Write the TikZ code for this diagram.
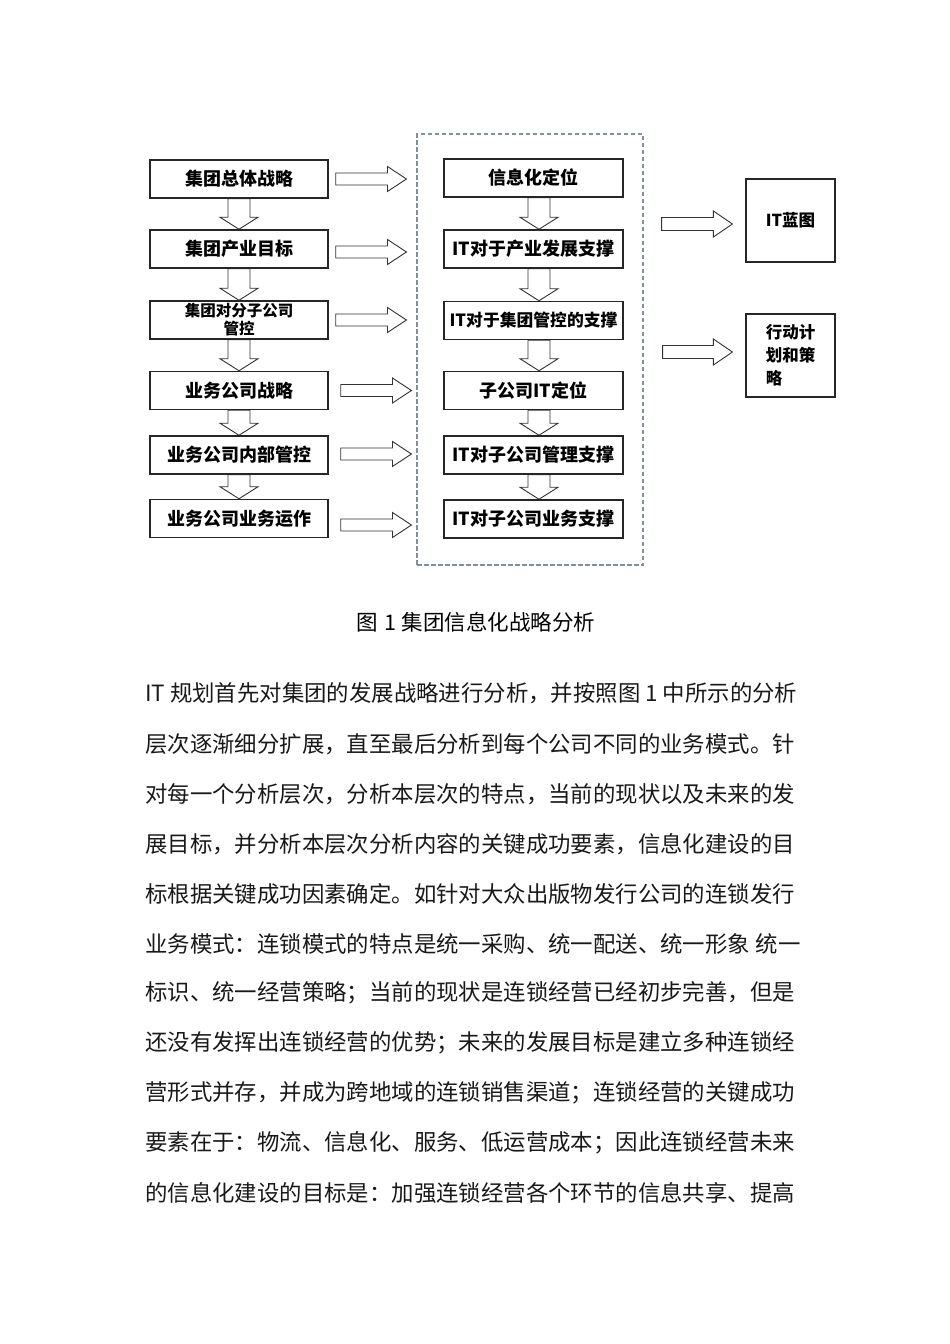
\documentclass[tikz,border=0pt]{standalone}
\usepackage{fontspec}
\setmainfont{Noto Sans CJK SC}
\usetikzlibrary{calc,backgrounds}
\definecolor{dashc}{RGB}{125,145,160}
\tikzset{
  boxl/.style={draw=black!85, line width=1.5pt, fill=white, minimum width=178pt, minimum height=38pt, inner sep=1pt, font=\fontsize{18}{20}\selectfont\bfseries, align=center},
  boxm/.style={boxl, minimum width=179pt},
  boxr/.style={draw=black!85, line width=1.2pt, fill=white, minimum width=89pt, minimum height=83pt, inner sep=1pt, font=\fontsize{16.5}{23}\selectfont\bfseries},
  dashbox/.style={draw=dashc, line width=1.1pt, dash pattern=on 4.5pt off 2.5pt, minimum width=226pt, minimum height=431pt, inner sep=0pt},
  blk/.style={draw=black!80, fill=white, line width=0.9pt, line join=miter},
  caption/.style={font=\fontsize{21.5}{24}\selectfont, inner sep=0pt},
  body/.style={font=\fontsize{22.4}{26}\selectfont, inner sep=0pt, anchor=west, text=black!90}
}
\newcommand\darrow[3]{%
  \draw[blk] let \p1=(#1.south), \p2=(#2.north) in
   (\x1+#3pt-11pt,\y1) -- (\x1+#3pt+11pt,\y1) -- (\x1+#3pt+11pt,\y2+12pt)
   -- (\x1+#3pt+19pt,\y2+12pt) -- (\x1+#3pt,\y2) -- (\x1+#3pt-19pt,\y2+12pt)
   -- (\x1+#3pt-11pt,\y2+12pt) -- cycle;}
\newcommand\rarrow[4]{%
  \draw[blk] let \p1=#1, \p2=#2 in
   (\x1,\y1+#3pt) -- (\x2-19pt,\y1+#3pt) -- (\x2-19pt,\y1+#4pt) -- (\x2,\y1)
   -- (\x2-19pt,\y1-#4pt) -- (\x2-19pt,\y1-#3pt) -- (\x1,\y1-#3pt) -- cycle;}
\begin{document}
\begin{tikzpicture}[x=1pt,y=-1pt]
\useasboundingbox (0,0) rectangle (950,1344);
\begin{pgfonlayer}{background}
\fill[white] (0,0) rectangle (950,1344);
\end{pgfonlayer}

% dashed container
\node[dashbox] (dash) at (530,349.5) {};

% left column
\node[boxl] (L1) at (239,179) {集团总体战略};
\node[boxl] (L2) at (239,249) {集团产业目标};
\node[boxl, font=\fontsize{15.5}{18}\selectfont\bfseries] (L3) at (239,320) {集团对分子公司\\管控};
\node[boxl] (L4) at (239,390.5) {业务公司战略};
\node[boxl] (L5) at (239,455) {业务公司内部管控};
\node[boxl] (L6) at (239,518.5) {业务公司业务运作};

% middle column
\node[boxm] (M1) at (533.5,178) {信息化定位};
\node[boxm] (M2) at (533.5,249) {IT对于产业发展支撑};
\node[boxm, font=\fontsize{16.8}{20}\selectfont\bfseries, inner sep=0pt] (M3) at (533.5,320.5) {IT对于集团管控的支撑};
\node[boxm] (M4) at (533.5,390.5) {子公司IT定位};
\node[boxm] (M5) at (533.5,455) {IT对子公司管理支撑};
\node[boxm] (M6) at (533.5,519) {IT对子公司业务支撑};

% right column
\node[boxr] (R1) at (790.5,220.5) {IT蓝图};
\node[boxr, align=left] (R2) at (790.5,355.5) {行动计\\划和策\\略};

\begin{pgfonlayer}{background}
\darrow{L1}{L2}{0}
\darrow{L2}{L3}{0}
\darrow{L3}{L4}{0}
\darrow{L4}{L5}{0}
\darrow{L5}{L6}{0}
\darrow{M1}{M2}{5.5}
\darrow{M2}{M3}{5.5}
\darrow{M3}{M4}{5.5}
\darrow{M4}{M5}{5.5}
\darrow{M5}{M6}{5.5}
\end{pgfonlayer}

\rarrow{($(L1.east)+(7,0)$)}{($(dash.west|-L1.east)+(-10,0)$)}{6}{12.5}
\rarrow{($(L2.east)+(7,3)$)}{($(dash.west|-L2.east)+(-10,3)$)}{6}{12.5}
\rarrow{($(L3.east)+(7,0)$)}{($(dash.west|-L3.east)+(-10,0)$)}{6}{12.5}
\rarrow{($(L4.east)+(12,0)$)}{($(dash.west|-L4.east)+(-5,0)$)}{6}{12.5}
\rarrow{($(L5.east)+(12,-1)$)}{($(dash.west|-L5.east)+(-5,-1)$)}{6}{12.5}
\rarrow{($(L6.east)+(12,6.5)$)}{($(dash.west|-L6.east)+(-5,6.5)$)}{6}{12.5}

\rarrow{($(dash.east|-R1.west)+(18,3.5)$)}{($(R1.west)+(-13,3.5)$)}{6.5}{13}
\rarrow{($(dash.east|-R2.west)+(19,-3.5)$)}{($(R2.west)+(-13,-3.5)$)}{6.5}{13}

% caption
\node[caption] (cap) at (476,622) {图\hspace{6pt}1\hspace{6pt}集团信息化战略分析};

% body text
\node[body] (b1) at (145,693) {IT\hspace{5pt}规划首先对集团的发展战略进行分析，并按照图\hspace{5pt}1\hspace{5pt}中所示的分析};
\node[body] (b2) at (145,744) {层次逐渐细分扩展，直至最后分析到每个公司不同的业务模式。针};
\node[body] (b3) at (145,794) {对每一个分析层次，分析本层次的特点，当前的现状以及未来的发};
\node[body] (b4) at (145,844) {展目标，并分析本层次分析内容的关键成功要素，信息化建设的目};
\node[body] (b5) at (145,894) {标根据关键成功因素确定。如针对大众出版物发行公司的连锁发行};
\node[body] (b6) at (145,944) {业务模式：连锁模式的特点是统一采购、统一配送、统一形象\hspace{6pt}统一};
\node[body] (b7) at (145,993) {标识、统一经营策略；当前的现状是连锁经营已经初步完善，但是};
\node[body] (b8) at (145,1043) {还没有发挥出连锁经营的优势；未来的发展目标是建立多种连锁经};
\node[body] (b9) at (145,1093) {营形式并存，并成为跨地域的连锁销售渠道；连锁经营的关键成功};
\node[body] (b10) at (145,1143) {要素在于：物流、信息化、服务、低运营成本；因此连锁经营未来};
\node[body] (b11) at (145,1193) {的信息化建设的目标是：加强连锁经营各个环节的信息共享、提高};
\end{tikzpicture}
\end{document}
